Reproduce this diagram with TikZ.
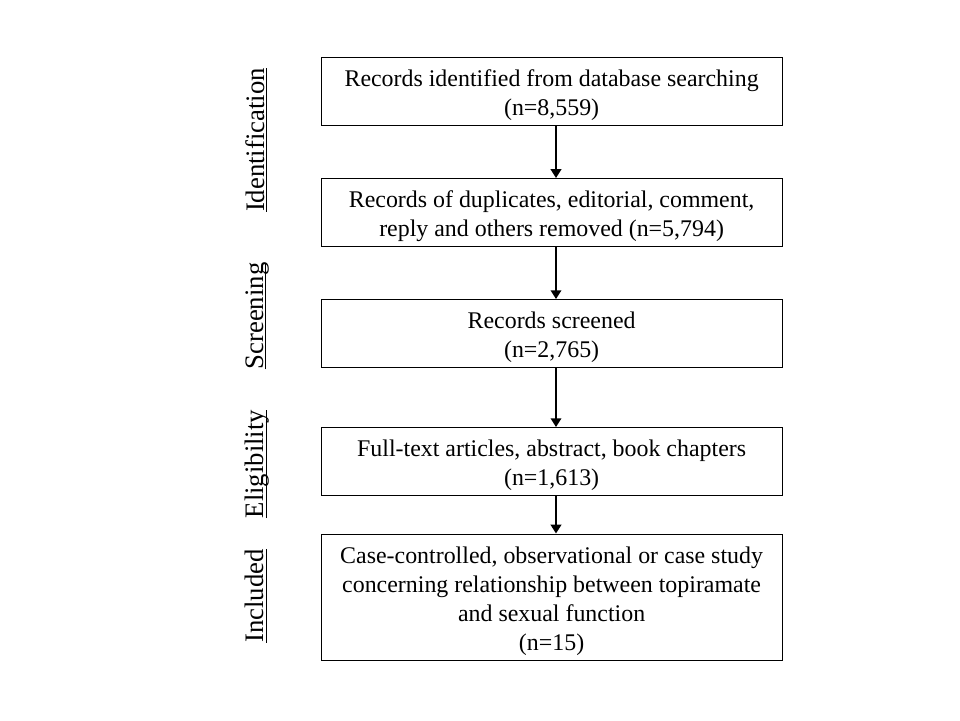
\documentclass[tikz,border=0pt]{standalone}
\usepackage{fontspec}
\setmainfont{Liberation Serif}
\usetikzlibrary{arrows.meta}

\newcommand{\stagename}[1]{\underline{\raisebox{0pt}[\height][0pt]{#1}}}
\newcommand{\topgap}{\rule{0pt}{17.5pt}}

\begin{document}
\begin{tikzpicture}[
		box/.style={align=center, draw, rectangle, line width=0.7pt, minimum width=11.525cm, font=\fontsize{17}{20.5}\selectfont},
		stage/.style={rotate=90, font=\fontsize{19}{22}\selectfont},
		arrow/.style={-{Triangle[length=0.22cm, width=0.26cm]}, line width=2.1pt},
	]
	\useasboundingbox (0, 0) rectangle (24, -18);

	% boxes
	\node[box, minimum height=1.675cm] (a) at (13.79, -2.2875)  {\topgap Records identified from database searching\\(n=8,559)};
	\node[box, minimum height=1.675cm] (b) at (13.79, -5.3125)  {\topgap Records of duplicates, editorial, comment,\\reply and others removed (n=5,794)};
	\node[box, minimum height=1.675cm] (c) at (13.79, -8.3375)  {\topgap Records screened\\(n=2,765)};
	\node[box, minimum height=1.675cm] (d) at (13.79, -11.5375) {\topgap Full-text articles, abstract, book chapters\\(n=1,613)};
	\node[box, minimum height=3.15cm]  (e) at (13.79, -14.925)  {\topgap Case-controlled, observational or case study\\concerning relationship between topiramate\\and sexual function\\(n=15)};

	% stages
	\node[stage] (s1) at (6.4, -3.5)   {\stagename{Identification}};
	\node[stage] (s2) at (6.4, -7.9)   {\stagename{Screening}};
	\node[stage] (s3) at (6.4, -11.6)  {\stagename{Eligibility}};
	\node[stage] (s4) at (6.4, -14.9)  {\stagename{Included}};

	\draw[arrow] ([xshift=0.11cm]a.south) -- ([xshift=0.11cm]b.north);
	\draw[arrow] ([xshift=0.11cm]b.south) -- ([xshift=0.11cm]c.north);
	\draw[arrow] ([xshift=0.11cm]c.south) -- ([xshift=0.11cm]d.north);
	\draw[arrow] ([xshift=0.11cm]d.south) -- ([xshift=0.11cm]e.north);
\end{tikzpicture}
\end{document}
